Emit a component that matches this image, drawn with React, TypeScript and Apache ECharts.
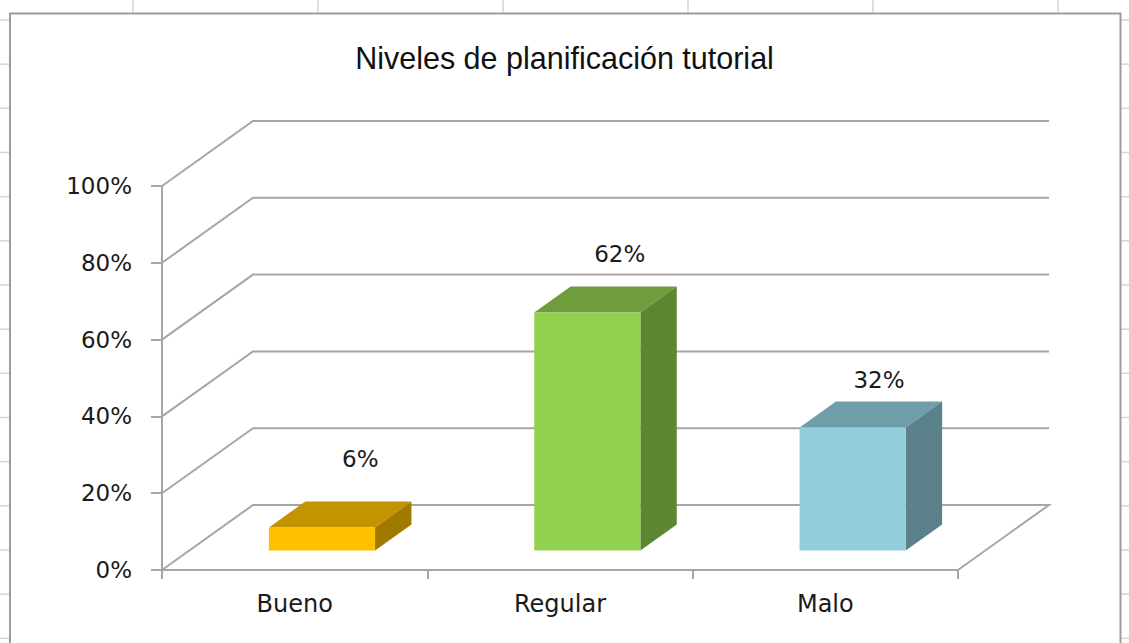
import React, { useEffect, useRef } from 'react';
import * as echarts from 'echarts';

const categories = ['Bueno', 'Regular', 'Malo'];
const values = [0.06, 0.62, 0.32];
const valueLabels = ['6%', '62%', '32%'];
const yTicks = [0, 0.2, 0.4, 0.6, 0.8, 1];

const frontColors = ['#FFC000', '#92D050', '#92CDDC'];
const topColors = ['#C49400', '#6F9D3D', '#6F9DA8'];
const sideColors = ['#A07A00', '#5C8632', '#5B818A'];

const GRID_COLOR = '#a6a6a6';
const DX = 91;
const DY = -65;
const BAR_FRONT = 0.3;
const BAR_DEPTH = 0.4;
const BAR_WIDTH = 0.4;

export default function App() {
  const ref = useRef<HTMLDivElement>(null);

  useEffect(() => {
    if (!ref.current) return;
    const chart = echarts.init(ref.current, null, { renderer: 'svg' });

    const bg: any[] = [];
    const hl = [20, 64.2, 108.3, 152.5, 196.7, 240.8, 285, 329.2, 373.3, 417.5, 461.7, 505.8, 550, 594.2, 638.3];
    hl.forEach((y) => {
      bg.push({ type: 'line', shape: { x1: 0, y1: y, x2: 10, y2: y }, style: { stroke: '#d6d6d6', lineWidth: 1.5 }, silent: true });
      bg.push({ type: 'line', shape: { x1: 1121, y1: y, x2: 1129, y2: y }, style: { stroke: '#d6d6d6', lineWidth: 1.5 }, silent: true });
    });
    [133, 318, 503, 688, 873, 1058].forEach((x) => {
      bg.push({ type: 'line', shape: { x1: x, y1: 0, x2: x, y2: 13 }, style: { stroke: '#d6d6d6', lineWidth: 1.5 }, silent: true });
    });
    bg.push({
      type: 'rect',
      shape: { x: 10, y: 13.5, width: 1110.5, height: 640 },
      style: { fill: 'none', stroke: '#9c9c9c', lineWidth: 2 },
      silent: true,
    });

    const option: any = {
      animation: false,
      backgroundColor: '#ffffff',
      textStyle: { fontFamily: 'DejaVu Sans' },
      title: {
        text: 'Niveles de planificación tutorial',
        left: 'center',
        top: 37,
        textStyle: { fontFamily: 'Liberation Sans', fontSize: 30.5, fontWeight: 'normal', color: '#111111' },
      },
      graphic: bg,
      grid: { left: 162, right: 171, top: 186, bottom: 73 },
      xAxis: {
        type: 'category',
        data: categories,
        axisLine: { show: true, lineStyle: { color: GRID_COLOR, width: 2 } },
        axisTick: { show: true, length: 9, lineStyle: { color: GRID_COLOR, width: 2 } },
        axisLabel: { margin: 22, fontSize: 24, color: '#1a1a1a', fontFamily: 'DejaVu Sans' },
        splitLine: { show: false },
      },
      yAxis: {
        type: 'value',
        min: 0,
        max: 1,
        interval: 0.2,
        axisLine: { show: true, lineStyle: { color: GRID_COLOR, width: 2 } },
        axisTick: { show: true, length: 11, lineStyle: { color: GRID_COLOR, width: 2 } },
        axisLabel: {
          margin: 30,
          fontSize: 23,
          color: '#1a1a1a',
          fontFamily: 'DejaVu Sans',
          formatter: (v: number) => Math.round(v * 100) + '%',
        },
        splitLine: { show: false },
      },
      series: [
        {
          type: 'custom',
          name: 'walls',
          silent: true,
          clip: false,
          z: 1,
          data: yTicks.map((v) => [0, v]),
          renderItem: (params: any, api: any) => {
            const v = api.value(1);
            const cs = params.coordSys;
            const y = api.coord([0, v])[1];
            const x0 = cs.x;
            const x1 = cs.x + cs.width;
            const pts =
              v === 0
                ? [[x0, y], [x0 + DX, y + DY], [x1 + DX, y + DY], [x1, y]]
                : [[x0, y], [x0 + DX, y + DY], [x1 + DX, y + DY]];
            return {
              type: 'polyline',
              shape: { points: pts },
              style: { stroke: GRID_COLOR, lineWidth: 2, fill: null },
            };
          },
        },
        {
          type: 'custom',
          name: 'bars',
          clip: false,
          z: 3,
          data: values.map((v, i) => [i, v]),
          renderItem: (params: any, api: any) => {
            const idx = api.value(0);
            const v = api.value(1);
            const base = api.coord([idx, 0]);
            const top = api.coord([idx, v]);
            const bw = api.size([1, 0])[0] * BAR_WIDTH;
            const ox = DX * BAR_FRONT;
            const oy = DY * BAR_FRONT;
            const bx = DX * BAR_DEPTH;
            const by = DY * BAR_DEPTH;
            const xl = base[0] - bw / 2 + ox;
            const xr = base[0] + bw / 2 + ox;
            const yb = base[1] + oy;
            const yt = top[1] + oy;
            return {
              type: 'group',
              children: [
                {
                  type: 'polygon',
                  shape: { points: [[xl, yt], [xr, yt], [xr + bx, yt + by], [xl + bx, yt + by]] },
                  style: { fill: topColors[idx] },
                },
                {
                  type: 'polygon',
                  shape: { points: [[xr, yt], [xr + bx, yt + by], [xr + bx, yb + by], [xr, yb]] },
                  style: { fill: sideColors[idx] },
                },
                {
                  type: 'rect',
                  shape: { x: xl, y: yt, width: xr - xl, height: yb - yt },
                  style: { fill: frontColors[idx] },
                },
                {
                  type: 'text',
                  x: (xl + xr) / 2 + bx + 2 - 6 * idx,
                  y: yt + by - (42 - 10 * idx),
                  style: {
                    text: valueLabels[idx],
                    fontFamily: 'DejaVu Sans',
                    fontSize: 23,
                    fill: '#1a1a1a',
                    align: 'center',
                    verticalAlign: 'middle',
                  },
                },
              ],
            };
          },
        },
      ],
    };

    chart.setOption(option);
    return () => chart.dispose();
  }, []);

  return (
    <div
      ref={ref}
      style={{ position: 'fixed', left: 0, top: 0, width: 1129, height: 643 }}
    />
  );
}
